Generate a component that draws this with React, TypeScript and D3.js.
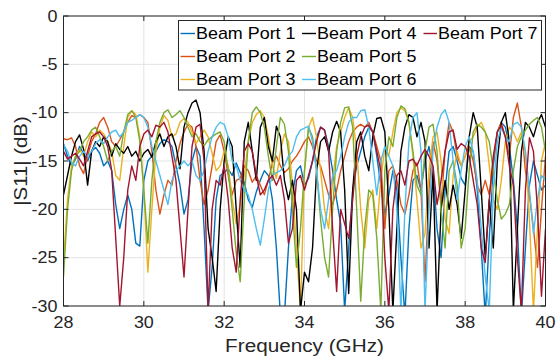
import React from 'react';
import * as d3 from 'd3';

const W = 556;
const H = 360;
const PL = 63.5, PR = 545.5, PT = 16, PB = 306;

const freqs: number[] = d3.range(0, 121).map((i) => +(28 + i * 0.1).toFixed(1));

const seriesNames = ['Beam Port 1', 'Beam Port 2', 'Beam Port 3', 'Beam Port 4', 'Beam Port 5', 'Beam Port 6', 'Beam Port 7'];
const seriesColors = ['#0072BD', '#D95319', '#EDB120', '#000000', '#77AC30', '#4DBEEE', '#A2142F'];

const port1 = [
  -13.2, -14.5, -15.5, -14.8, -13.5, -14.2, -15, -14, -13.6, -14.2, -15.5, -15, -16, -19.5, -22, -20, -18.5, -20, -23.5, -23.8,
  -17, -15, -14.5, -14, -13.2, -12.8, -13, -13.5, -15.5, -17.5, -20.5, -19, -15, -13.5, -14.5, -22, -30.5, -26, -19, -16.5,
  -16.2, -15.8, -16.5, -15.2, -16.2, -17.2, -19, -19.8, -18.2, -17, -16, -16.5, -19, -24, -31, -31, -24, -18.5, -16, -15.5,
  -17.5, -16.8, -15, -12.5, -11.5, -11.8, -13.5, -16, -19, -21.5, -30.5, -24, -18, -15.5, -14, -12.5, -11.5, -12, -14.5, -17.5,
  -20.5, -18.5, -16, -18, -25, -31, -22, -17, -16.5, -18, -15, -13.5, -16, -22, -25, -18, -14, -13.5, -15, -16.8,
  -17.5, -13.5, -14, -18, -24, -31, -23, -15.5, -12, -11, -11.5, -13.5, -17, -22, -31, -24, -17.5, -15, -16.5, -18, -17.5,
];
const port2 = [
  -12.7, -12.8, -12.6, -13.5, -15.5, -16.3, -14.5, -13, -12.2, -11, -10.5, -11.5, -13, -13.5, -12.8, -12, -11, -10.3, -10.5, -10.2,
  -10.5, -11, -14, -18, -20.5, -18.5, -17, -17.5, -15, -13.2, -12, -11.2, -11.5, -13.5, -17, -19.5, -18, -15.5, -13, -12.3,
  -14, -16.5, -18.5, -17, -16.8, -15.5, -16, -17.2, -16.5, -17.5, -18.5, -17, -15.2, -14.5, -15.5, -16.2, -15.8, -15, -14.5, -13.8,
  -13, -12.5, -13.5, -15, -15.5, -17, -18.5, -19.5, -18, -16, -14.5, -13, -12, -11.5, -11.2, -11.5, -11, -12, -13.5, -15,
  -22, -16, -15.5, -17, -19.5, -20.5, -18.5, -16, -15.2, -18, -27.5, -18, -13, -15, -19.5, -14, -11, -12, -14.5, -15.5,
  -14.5, -13.5, -15, -17.5, -18.5, -17, -18.5, -15, -12, -11, -12.5, -14.5, -10.5, -9, -11.5, -16, -18.5, -22, -26, -20, -14.5,
];
const port3 = [
  -25.5, -19, -15.5, -14.5, -13.8, -14.5, -13, -12, -12.5, -11.8, -12.2, -13, -14, -16.5, -17, -13.5, -10.5, -9.8, -10.2, -12.5,
  -18, -26.5, -20, -14, -11.5, -10.3, -10.8, -12.5, -12.2, -11, -10.6, -11, -12, -13.2, -12.5, -11.8, -12.5, -14.2, -16, -15.5,
  -14, -15.5, -19, -21.5, -19.5, -16.5, -13, -11, -10.2, -9.8, -10.5, -12.5, -15.5, -16.8, -14, -12.2, -13, -17.5, -24, -30.5,
  -16, -11.5, -10.5, -12.5, -16, -20, -22, -17, -13.5, -12, -10.5, -9.5, -10.5, -14, -20, -24, -19, -18, -22, -17,
  -13.5, -14.5, -12, -10, -9.5, -9.8, -11, -14.5, -19, -24, -22.5, -16, -12.5, -12, -15, -21, -22.5, -16.5, -14, -15.5,
  -14.5, -13, -12.5, -11.5, -11, -12, -15.5, -19, -20, -17, -13, -11.5, -12, -13, -12, -14, -21, -30.5, -22, -15, -13,
];
const port4 = [
  -18.5, -16.5, -14.5, -13, -12.3, -13.8, -17.5, -14, -13, -13.5, -12.5, -13, -14.5, -13.2, -13.8, -14.2, -13.5, -14.5, -14, -15,
  -14.2, -13.8, -14.6, -13, -12.2, -13.5, -12.5, -12.2, -13.5, -15.8, -11.5, -10, -9, -8.7, -10, -14, -22, -25, -28.5, -20,
  -15, -12.5, -13.5, -20, -26, -13, -11, -14, -17, -11.5, -10.5, -13.5, -15, -11.4, -12.5, -17, -19, -17, -20, -30.5,
  -26.5, -27.5, -24, -16, -13, -12.5, -14, -12, -10.9, -12, -18, -28.7, -18, -13, -12, -14.5, -16, -12.5, -10.6, -10.5,
  -12, -20, -30.5, -22, -14, -11.5, -10.2, -10.5, -12.5, -11, -13, -24, -16, -30.5, -20, -17, -20, -17.5, -19.5, -23,
  -18, -12.5, -10, -11.5, -18, -25, -19, -24, -15, -11, -10, -13, -30.5, -22, -14, -11, -11.5, -12.5, -11, -10.2, -11.5,
];
const port5 = [
  -27, -20, -16, -14.5, -14, -13, -12.5, -11.8, -11.5, -12.5, -13.5, -15, -14, -13.5, -14.5, -12, -10.2, -9.8, -10.5, -13,
  -18, -23.5, -17, -13, -11, -10, -9.7, -10.5, -10.2, -9.8, -10.5, -11.5, -12.5, -12.2, -13, -13.4, -12.8, -12.5, -12.2, -12,
  -13, -16, -20, -24.5, -27.5, -19, -13, -10, -9.4, -10, -11.5, -14.5, -17, -13.5, -10.5, -11.2, -14, -20, -26, -22,
  -16, -11.5, -12.5, -16, -21, -25, -27, -20, -14, -11, -9.5, -9.4, -11.5, -20, -29.5, -22, -18, -18.5, -23, -30.5,
  -16, -12.5, -13.5, -10.5, -9.3, -9.6, -11, -14, -17.5, -18.5, -14, -11.5, -11.2, -14, -20, -24, -16, -15, -17.5, -24,
  -22, -16, -12, -11.2, -11.5, -12, -13, -16, -19, -21, -20.5, -19.5, -16, -13.5, -12.5, -11.8, -11.2, -10.8, -10.5, -11.5, -14,
];
const port6 = [
  -13.3, -14, -15.2, -15.5, -14.5, -14, -14.5, -14, -13.2, -12.8, -13.2, -12.5, -12, -11.8, -12.5, -12, -11, -10.8, -10.5, -10.2,
  -10.5, -11.5, -13.5, -15, -16.5, -18, -19.5, -17, -16, -15.5, -15, -15.5, -15, -16.5, -17, -16, -14, -12.5, -11.5, -11,
  -11.2, -12.5, -15, -15.5, -17, -18, -18.5, -20, -22, -23.7, -21, -18, -16.5, -16.2, -16, -15.5, -14.5, -14, -12.5, -11.8,
  -11.6, -11.4, -13, -16, -20, -22, -19, -16.5, -16, -14.5, -12.5, -11, -10.5, -10.5, -9.8, -9.7, -11.5, -15, -18.5, -15,
  -13.5, -14.5, -15.5, -20, -30.5, -20, -13, -10.5, -10, -14, -30.5, -20, -14, -11.5, -10.2, -9.7, -11, -15, -19, -16,
  -13.5, -12.5, -14, -17, -22, -27, -30.5, -18, -13, -11.5, -12.5, -13, -11.2, -11, -11.5, -14, -18, -22.5, -19, -16.5, -17,
];
const port7 = [
  -14, -14.8, -14.5, -14.2, -14.8, -15.5, -14, -12.5, -12.2, -12, -12.5, -13.5, -16, -23, -30, -25, -18, -15.5, -17, -13.5,
  -12.2, -11.8, -12.5, -11.3, -11.5, -11, -12, -14.5, -17, -22, -27, -20, -13.5, -11.5, -11.2, -15, -30.5, -20, -17, -17.5,
  -15.5, -19, -24, -26.5, -19, -14, -13.2, -14, -16.5, -18.5, -18, -17, -16.5, -17.5, -16.5, -19, -23.5, -22, -17, -16.5,
  -18, -16.5, -15, -13, -11.5, -11.8, -14, -22, -28.5, -20, -21.5, -23, -19, -14.5, -12.5, -11.5, -11.3, -12, -14, -16,
  -25, -30.5, -20, -16.5, -16, -17.5, -15, -14.8, -15.5, -14.5, -13.8, -14.5, -15.5, -19.5, -17, -14, -12, -11.8, -13.8, -13.2,
  -13.5, -14.5, -17, -19.5, -24, -25.5, -19, -14.5, -12, -11.3, -12.5, -15.5, -17.5, -25, -30.5, -18, -12.6, -14, -20, -29, -22,
];

const seriesValues = [port1, port2, port3, port4, port5, port6, port7];

const xTicks = [28, 30, 32, 34, 36, 38, 40];
const yTicks = [0, -5, -10, -15, -20, -25, -30];

const FONT = '"Liberation Sans", Arial, Helvetica, sans-serif';
const TXT = '#262626';
const SX = 1.12;

export default function App() {
  const x = d3.scaleLinear().domain([28, 40]).range([PL, PR]);
  const y = d3.scaleLinear().domain([-30, 0]).range([PB, PT]);
  const line = d3
    .line<number>()
    .x((_, i) => x(freqs[i]))
    .y((d) => y(d));

  const legendCols = [
    { lx1: 180.5, lx2: 195, tx: 196 },
    { lx1: 302, lx2: 316, tx: 317 },
    { lx1: 423.5, lx2: 437, tx: 438 },
  ];
  const legendRows = [33.5, 56.5, 79.5];

  return (
    <svg width={W} height={H} style={{ position: 'absolute', left: 0, top: 0, background: '#fff' }} fontFamily={FONT}>
      <defs>
        <clipPath id="plotclip">
          <rect x={PL} y={PT} width={PR - PL} height={PB - PT} />
        </clipPath>
      </defs>
      <rect x={0} y={0} width={W} height={H} fill="#fff" />
      {/* grid */}
      <g stroke="#e3e3e3" strokeWidth={1}>
        {xTicks.map((t) => (
          <line key={'gx' + t} x1={x(t)} x2={x(t)} y1={PT} y2={PB} />
        ))}
        {yTicks.map((t) => (
          <line key={'gy' + t} x1={PL} x2={PR} y1={y(t)} y2={y(t)} />
        ))}
      </g>
      {/* series */}
      <g clipPath="url(#plotclip)" fill="none" strokeWidth={1.4} strokeLinejoin="round">
        {seriesValues.map((vals, si) => (
          <path key={si} d={line(vals) || ''} stroke={seriesColors[si]} />
        ))}
      </g>
      {/* axes box */}
      <rect x={PL} y={PT} width={PR - PL} height={PB - PT} fill="none" stroke={TXT} strokeWidth={1} />
      <g stroke={TXT} strokeWidth={1}>
        {xTicks.map((t) => (
          <g key={'tx' + t}>
            <line x1={x(t)} x2={x(t)} y1={PB} y2={PB - 5} />
            <line x1={x(t)} x2={x(t)} y1={PT} y2={PT + 5} />
          </g>
        ))}
        {yTicks.map((t) => (
          <g key={'ty' + t}>
            <line x1={PL} x2={PL + 5} y1={y(t)} y2={y(t)} />
            <line x1={PR} x2={PR - 5} y1={y(t)} y2={y(t)} />
          </g>
        ))}
      </g>
      {/* tick labels */}
      <g fill={TXT} fontSize={16}>
        {xTicks.map((t) => (
          <text key={'lx' + t} transform={`translate(${x(t)},328) scale(${SX},1)`} textAnchor="middle">
            {t}
          </text>
        ))}
        {yTicks.map((t) => (
          <text key={'ly' + t} transform={`translate(57.5,${y(t) + 5.8}) scale(${SX},1)`} textAnchor="end">
            {t}
          </text>
        ))}
      </g>
      {/* axis labels */}
      <text transform={`translate(${(PL + PR) / 2},352) scale(${SX},1)`} textAnchor="middle" fontSize={18.5} fill={TXT}>
        Frequency (GHz)
      </text>
      <text transform={`translate(27,${(PT + PB) / 2}) rotate(-90) scale(1.1,1)`} textAnchor="middle" fontSize={18.5} fill={TXT}>
        |S11| (dB)
      </text>
      {/* legend */}
      <rect x={178.5} y={20.5} width={363} height={69.5} fill="#fff" stroke={TXT} strokeWidth={1} />
      {seriesNames.map((name, i) => {
        const col = legendCols[Math.floor(i / 3)];
        const ry = legendRows[i % 3];
        return (
          <g key={name}>
            <line x1={col.lx1} x2={col.lx2} y1={ry} y2={ry} stroke={seriesColors[i]} strokeWidth={1.4} />
            <text transform={`translate(${col.tx},${ry + 5.8}) scale(${SX},1)`} fontSize={16} fill="#000">
              {name}
            </text>
          </g>
        );
      })}
    </svg>
  );
}
